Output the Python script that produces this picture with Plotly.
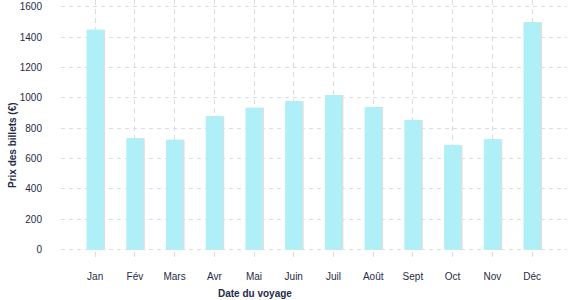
import plotly.graph_objects as go

months = ["Jan", "Fév", "Mars", "Avr", "Mai", "Juin", "Juil", "Août", "Sept", "Oct", "Nov", "Déc"]
prices = [1450, 735, 725, 880, 935, 980, 1020, 940, 855, 690, 728, 1500]
y_ticks = [0, 200, 400, 600, 800, 1000, 1200, 1400, 1600]

BAR_W = 0.43
txt = "#1f2b47"
grid = "#dcdcdc"

fig = go.Figure()
# subtle shadow behind bars
fig.add_trace(go.Bar(x=list(range(len(months))), y=prices, width=BAR_W, offset=-BAR_W / 2 + 0.035,
                     marker=dict(color="#dedede", line=dict(width=0)), hoverinfo="skip", showlegend=False))
fig.add_trace(go.Bar(x=list(range(len(months))), y=prices, width=BAR_W, offset=-BAR_W / 2,
                     marker=dict(color="#aeeff8", line=dict(width=0)), showlegend=False))

fig.update_layout(
    width=577, height=300,
    margin=dict(l=61, r=10, t=0, b=39),
    barmode="overlay",
    plot_bgcolor="white", paper_bgcolor="white",
    font=dict(family="Liberation Sans, Arial, sans-serif", size=10, color=txt),
    xaxis=dict(
        tickmode="array", tickvals=list(range(len(months))), ticktext=months,
        range=[-0.86, 11.88], showgrid=True, gridcolor=grid, griddash="5px,4px", gridwidth=1,
        zeroline=False, showline=False, ticks="", ticklabelstandoff=8,
    ),
    yaxis=dict(
        tickmode="array", tickvals=y_ticks, range=[-75, 1646],
        showgrid=True, gridcolor=grid, griddash="4px,4px", gridwidth=1,
        zeroline=False, showline=False, ticks="", ticklabelstandoff=18,
    ),
    annotations=[
        dict(text="<b>Prix des billets (€)</b>", xref="paper", yref="paper", x=-61 / 506 + 12 / 506,
             y=(261 - 145) / 261, textangle=-90, showarrow=False, xanchor="center", yanchor="middle",
             font=dict(size=10, color=txt)),
        dict(text="<b>Date du voyage</b>", xref="paper", yref="paper", x=(255 - 61) / 506,
             y=-(293 - 261) / 261, showarrow=False, xanchor="center", yanchor="middle",
             font=dict(size=10, color=txt)),
    ],
)

fig.write_html("out.html")
